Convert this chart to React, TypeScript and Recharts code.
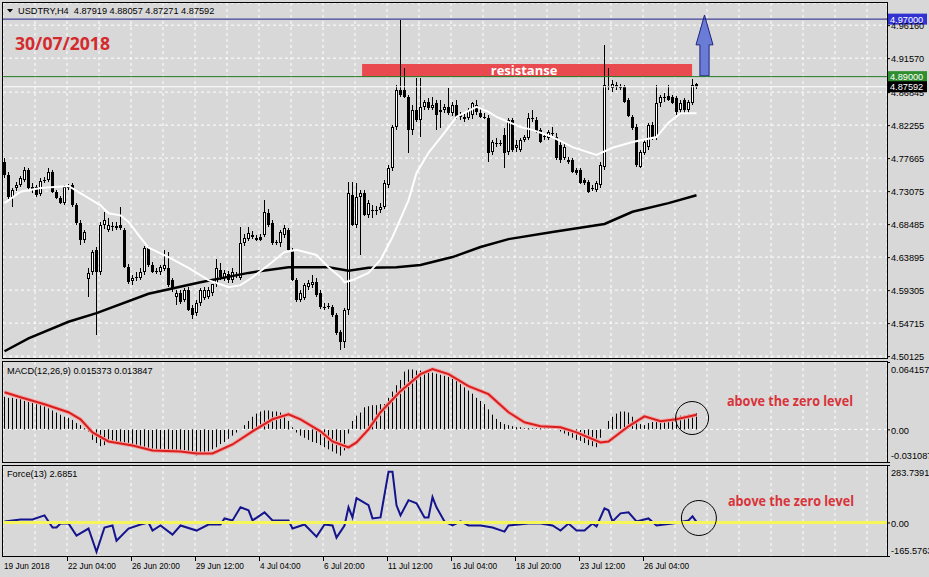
import React from "react";
import {
  ComposedChart,
  Bar,
  Line,
  XAxis,
  YAxis,
  CartesianGrid,
  ReferenceLine,
  ReferenceArea,
  ReferenceDot,
} from "recharts";

const FONT = "'Liberation Sans', Arial, sans-serif";
const BOLD_FONT = "'Open Sans', 'Liberation Sans', sans-serif";
const BG = "#d8d8d8";
const X_DOMAIN = [-0.375, 220.625];

// USDTRY H4 bars, 19 Jun 2018 12:00 .. 30 Jul 2018 08:00 : [open, high, low, close]
const candles = [
  [4.771, 4.777, 4.749, 4.753], [4.753, 4.757, 4.720, 4.723], [4.723, 4.735, 4.709, 4.732], [4.735, 4.743, 4.730, 4.739],
  [4.739, 4.752, 4.737, 4.749], [4.746, 4.764, 4.743, 4.760], [4.760, 4.763, 4.732, 4.735], [4.736, 4.742, 4.728, 4.734],
  [4.736, 4.739, 4.723, 4.725], [4.727, 4.749, 4.724, 4.745], [4.745, 4.750, 4.742, 4.746], [4.746, 4.763, 4.743, 4.757],
  [4.757, 4.760, 4.728, 4.730], [4.730, 4.732, 4.720, 4.721], [4.721, 4.724, 4.713, 4.714], [4.714, 4.739, 4.711, 4.736],
  [4.736, 4.741, 4.732, 4.735], [4.739, 4.742, 4.709, 4.711], [4.711, 4.714, 4.684, 4.686], [4.686, 4.691, 4.656, 4.663],
  [4.663, 4.677, 4.659, 4.674], [4.609, 4.624, 4.583, 4.617], [4.618, 4.649, 4.614, 4.646], [4.649, 4.653, 4.531, 4.618],
  [4.618, 4.688, 4.614, 4.684], [4.684, 4.702, 4.679, 4.691], [4.677, 4.693, 4.674, 4.684], [4.681, 4.688, 4.675, 4.682],
  [4.682, 4.688, 4.677, 4.679], [4.684, 4.709, 4.677, 4.679], [4.677, 4.679, 4.624, 4.625], [4.625, 4.629, 4.601, 4.604],
  [4.606, 4.614, 4.600, 4.610], [4.610, 4.618, 4.606, 4.611], [4.610, 4.624, 4.607, 4.618], [4.618, 4.654, 4.614, 4.652],
  [4.652, 4.654, 4.625, 4.628], [4.628, 4.632, 4.617, 4.618], [4.620, 4.624, 4.615, 4.619], [4.618, 4.628, 4.614, 4.625],
  [4.622, 4.649, 4.620, 4.628], [4.624, 4.646, 4.597, 4.600], [4.607, 4.610, 4.590, 4.596], [4.583, 4.593, 4.572, 4.589],
  [4.589, 4.593, 4.574, 4.577], [4.579, 4.596, 4.577, 4.593], [4.593, 4.597, 4.563, 4.565], [4.568, 4.572, 4.553, 4.558],
  [4.561, 4.579, 4.557, 4.575], [4.575, 4.596, 4.571, 4.593], [4.582, 4.597, 4.579, 4.593], [4.583, 4.597, 4.581, 4.593],
  [4.589, 4.602, 4.585, 4.601], [4.601, 4.636, 4.597, 4.624], [4.621, 4.631, 4.607, 4.611], [4.610, 4.621, 4.606, 4.617],
  [4.616, 4.620, 4.604, 4.607], [4.607, 4.624, 4.603, 4.618], [4.614, 4.618, 4.609, 4.613], [4.610, 4.681, 4.607, 4.659],
  [4.659, 4.671, 4.654, 4.666], [4.664, 4.681, 4.661, 4.672], [4.670, 4.675, 4.664, 4.667], [4.666, 4.670, 4.661, 4.663],
  [4.667, 4.671, 4.661, 4.663], [4.670, 4.718, 4.666, 4.702], [4.700, 4.706, 4.681, 4.684], [4.686, 4.691, 4.656, 4.659],
  [4.660, 4.663, 4.656, 4.659], [4.659, 4.677, 4.654, 4.674], [4.670, 4.684, 4.666, 4.679], [4.677, 4.679, 4.647, 4.649],
  [4.649, 4.652, 4.606, 4.607], [4.607, 4.610, 4.577, 4.579], [4.579, 4.593, 4.577, 4.589], [4.582, 4.603, 4.579, 4.600],
  [4.597, 4.607, 4.593, 4.603], [4.600, 4.614, 4.596, 4.604], [4.604, 4.610, 4.583, 4.586], [4.589, 4.593, 4.567, 4.570],
  [4.570, 4.575, 4.565, 4.569], [4.571, 4.575, 4.567, 4.570], [4.570, 4.572, 4.556, 4.558], [4.558, 4.561, 4.531, 4.533],
  [4.535, 4.538, 4.510, 4.521], [4.521, 4.568, 4.513, 4.565], [4.565, 4.743, 4.558, 4.728], [4.725, 4.743, 4.682, 4.684],
  [4.684, 4.742, 4.679, 4.723], [4.723, 4.732, 4.642, 4.728], [4.728, 4.732, 4.696, 4.698], [4.698, 4.718, 4.693, 4.714],
  [4.705, 4.711, 4.693, 4.704], [4.704, 4.710, 4.697, 4.705], [4.705, 4.714, 4.700, 4.709], [4.709, 4.746, 4.705, 4.742],
  [4.739, 4.767, 4.735, 4.763], [4.763, 4.823, 4.759, 4.820], [4.820, 4.878, 4.816, 4.871], [4.871, 4.969, 4.862, 4.865],
  [4.871, 4.902, 4.860, 4.862], [4.862, 4.865, 4.784, 4.816], [4.816, 4.851, 4.809, 4.844], [4.844, 4.888, 4.827, 4.830],
  [4.830, 4.888, 4.806, 4.848], [4.848, 4.858, 4.844, 4.855], [4.855, 4.860, 4.844, 4.846], [4.846, 4.862, 4.844, 4.851],
  [4.853, 4.858, 4.816, 4.837], [4.841, 4.858, 4.819, 4.844], [4.844, 4.852, 4.839, 4.848], [4.848, 4.874, 4.837, 4.839],
  [4.839, 4.855, 4.835, 4.851], [4.851, 4.858, 4.832, 4.834], [4.834, 4.841, 4.830, 4.837], [4.834, 4.838, 4.827, 4.831],
  [4.832, 4.846, 4.830, 4.844], [4.837, 4.855, 4.832, 4.853], [4.851, 4.858, 4.837, 4.841], [4.839, 4.846, 4.832, 4.834],
  [4.834, 4.839, 4.830, 4.833], [4.832, 4.837, 4.771, 4.784], [4.785, 4.802, 4.781, 4.799], [4.798, 4.805, 4.793, 4.797],
  [4.797, 4.802, 4.793, 4.796], [4.809, 4.818, 4.763, 4.784], [4.785, 4.832, 4.781, 4.830], [4.830, 4.832, 4.785, 4.788],
  [4.791, 4.802, 4.785, 4.795], [4.788, 4.805, 4.785, 4.802], [4.802, 4.809, 4.799, 4.806], [4.805, 4.839, 4.802, 4.832],
  [4.832, 4.844, 4.827, 4.831], [4.830, 4.834, 4.812, 4.813], [4.816, 4.819, 4.798, 4.799], [4.807, 4.812, 4.802, 4.806],
  [4.805, 4.816, 4.802, 4.813], [4.812, 4.820, 4.807, 4.810], [4.806, 4.812, 4.774, 4.777], [4.795, 4.802, 4.770, 4.774],
  [4.777, 4.798, 4.774, 4.792], [4.774, 4.778, 4.768, 4.771], [4.774, 4.777, 4.756, 4.757], [4.760, 4.763, 4.753, 4.756],
  [4.760, 4.763, 4.741, 4.742], [4.746, 4.749, 4.739, 4.742], [4.743, 4.746, 4.728, 4.730], [4.735, 4.739, 4.731, 4.734],
  [4.732, 4.745, 4.730, 4.742], [4.739, 4.771, 4.735, 4.767], [4.764, 4.934, 4.760, 4.878], [4.877, 4.902, 4.871, 4.876],
  [4.874, 4.885, 4.869, 4.880], [4.878, 4.882, 4.871, 4.876], [4.876, 4.880, 4.871, 4.874], [4.876, 4.878, 4.853, 4.855],
  [4.858, 4.860, 4.834, 4.835], [4.834, 4.837, 4.816, 4.819], [4.820, 4.824, 4.764, 4.767], [4.764, 4.788, 4.763, 4.785],
  [4.784, 4.802, 4.781, 4.799], [4.792, 4.826, 4.788, 4.823], [4.823, 4.827, 4.802, 4.806], [4.806, 4.878, 4.802, 4.853],
  [4.853, 4.865, 4.849, 4.862], [4.860, 4.867, 4.855, 4.862], [4.863, 4.878, 4.856, 4.858], [4.862, 4.865, 4.852, 4.853],
  [4.860, 4.863, 4.837, 4.841], [4.844, 4.858, 4.839, 4.853], [4.858, 4.860, 4.839, 4.844], [4.844, 4.858, 4.838, 4.855],
  [4.853, 4.887, 4.851, 4.878], [4.87919, 4.88057, 4.87271, 4.87592],
];

// moving averages: [bar, value]
const maFast = [
  [0, 4.714], [4, 4.730], [9, 4.735], [16, 4.738], [24, 4.711], [26, 4.700], [29, 4.697], [31, 4.688],
  [34, 4.666], [36, 4.652], [41, 4.639], [46, 4.624], [51, 4.607], [56, 4.597], [59, 4.600], [62, 4.611],
  [66, 4.628], [70, 4.646], [73, 4.649], [78, 4.642], [81, 4.625], [84, 4.611], [85, 4.604], [87, 4.607],
  [91, 4.617], [94, 4.635], [97, 4.667], [101, 4.718], [103, 4.756], [106, 4.784], [110, 4.812], [113, 4.834],
  [118, 4.848], [121, 4.841], [123, 4.834], [129, 4.820], [132, 4.816], [137, 4.806], [142, 4.792], [148, 4.781],
  [152, 4.791], [157, 4.799], [163, 4.806], [166, 4.826], [169, 4.839], [173, 4.839],
];
const maSlow = [
  [0, 4.508], [6, 4.526], [16, 4.549], [23, 4.561], [36, 4.588], [49, 4.604], [61, 4.617], [71, 4.625],
  [81, 4.625], [86, 4.620], [91, 4.624], [98, 4.625], [104, 4.628], [112, 4.639], [119, 4.653], [126, 4.664],
  [137, 4.674], [150, 4.685], [157, 4.702], [166, 4.714], [173, 4.725],
];

// MACD(12,26,9) main values, one per bar
const macdMain = [
  0.031, 0.030, 0.030, 0.029, 0.029, 0.027, 0.026, 0.025, 0.024, 0.023,
  0.022, 0.020, 0.018, 0.016, 0.014, 0.012, 0.011, 0.009, 0.006, 0.004, 0.001, -0.002,
  -0.010, -0.013, -0.016, -0.015, -0.013, -0.012, -0.013, -0.013, -0.014, -0.016, -0.017, -0.016,
  -0.018, -0.018, -0.019, -0.019, -0.020, -0.020, -0.019, -0.020, -0.021, -0.021, -0.022, -0.022,
  -0.023, -0.024, -0.025, -0.024, -0.023, -0.021, -0.019, -0.017, -0.014, -0.012,
  -0.009, -0.006, -0.003, 0.000, 0.004, 0.008, 0.012, 0.015,
  0.017, 0.018, 0.018, 0.017, 0.017, 0.016, 0.012, 0.008, 0.002,
  -0.003, -0.006, -0.008, -0.010, -0.012, -0.013, -0.015, -0.017, -0.019, -0.021, -0.023, -0.025, -0.020,
  -0.004, 0.008, 0.013, 0.016, 0.021, 0.022, 0.023, 0.023, 0.024, 0.024,
  0.030, 0.036, 0.042, 0.047, 0.055, 0.057, 0.057, 0.056, 0.056, 0.055,
  0.055, 0.054, 0.053, 0.052, 0.051, 0.050, 0.048, 0.046, 0.043, 0.040, 0.037, 0.034,
  0.030, 0.027, 0.024, 0.019, 0.014, 0.010, 0.007, 0.005, 0.004, 0.003, 0.002, 0.002, 0.001,
  0.001, 0.001, 0.001, 0.001, 0.001, 0.001, 0.000, 0.000,
  -0.002, -0.004, -0.006, -0.008, -0.010, -0.011, -0.013, -0.015, -0.016, -0.017, -0.008, 0.000,
  0.008, 0.012, 0.015, 0.017, 0.017, 0.016, 0.012, 0.008, 0.005, 0.004,
  0.006, 0.007, 0.007, 0.008, 0.008, 0.009, 0.011, 0.012, 0.013, 0.013, 0.014, 0.014, 0.015373,
];
const macdSignal = [
  [0, 0.0354], [4, 0.0306], [10, 0.0239], [16, 0.0163], [19, 0.0096], [22, -0.0029], [26, -0.0115], [32, -0.0153],
  [37, -0.0201], [44, -0.0211], [48, -0.023], [52, -0.023], [57, -0.0144], [62, -0.0019], [67, 0.0096], [71, 0.0144],
  [74, 0.0096], [79, -0.0019], [82, -0.0115], [86, -0.0172], [88, -0.0124], [91, 0.0], [94, 0.0163], [99, 0.0364],
  [104, 0.0526], [107, 0.0574], [111, 0.0526], [116, 0.0411], [121, 0.0335], [126, 0.0163], [130, 0.0067], [134, 0.0029],
  [139, 0.0019], [143, -0.0029], [149, -0.0124], [151, -0.0115], [156, 0.0029], [160, 0.0124], [164, 0.0077], [168, 0.0096],
  [173, 0.013847],
];

// Force(13): [bar, value]
const force = [
  [0, 5], [4, 15], [7, 15], [10, 35], [12, -25], [13, -25], [14, -5], [16, -5], [18, -65], [21, -30], [23, -145],
  [25, -25], [27, -15], [28, -90], [31, -30], [34, -10], [36, 0], [37, -40], [39, -15], [42, -60], [44, -15], [48, -40],
  [51, -10], [54, -10], [55, 20], [57, 10], [59, 75], [61, 60], [62, 10], [65, 50], [67, 10], [71, 10], [72, -30],
  [75, -10], [78, -70], [80, -10], [82, -15], [83, -75], [85, -15], [86, 75], [87, 25], [88, 120], [91, 85], [92, 20],
  [94, 25], [96, 250], [97, 250], [98, 85], [99, 35], [101, 110], [103, 95], [105, 25], [106, 25], [107, 125], [108, 75],
  [110, 5], [112, -15], [114, 5], [116, -15], [119, -15], [122, -25], [125, -45], [126, -15], [131, -5], [134, -5],
  [137, -15], [139, -40], [141, -5], [143, -40], [145, -40], [147, -5], [148, -20], [150, 70], [151, 60], [152, 5],
  [154, 45], [156, 50], [158, 5], [161, 20], [163, -15], [167, -5], [171, 10], [172, 30], [173, 2.6851],
];

const priceTicks = [4.50125, 4.54715, 4.59305, 4.63895, 4.68485, 4.73075, 4.77665, 4.82255, 4.86845, 4.9157, 4.9616];
const macdTicks = [0.064157, 0, -0.031087];
const macdTickLabels = ["0.064157", "0.00", "-0.031087"];
const forceTicks = [283.7391, 0, -165.5763];
const forceTickLabels = ["283.7391", "0.00", "-165.5763"];
const dateLabels = [
  "19 Jun 2018", "22 Jun 04:00", "26 Jun 20:00", "29 Jun 12:00", "4 Jul 04:00", "6 Jul 20:00",
  "11 Jul 12:00", "16 Jul 04:00", "18 Jul 20:00", "23 Jul 12:00", "26 Jul 04:00",
];

const gridTicks = Array.from({ length: 28 }, (_, k) => 8 * k - 0.375);

const mainData = candles.map((c, i) => ({ i, o: c[0], h: c[1], l: c[2], c: c[3], hl: [c[2], c[1]] }));
const fastData = maFast.map(([i, v]) => ({ i, v }));
const slowData = maSlow.map(([i, v]) => ({ i, v }));
const macdData = macdMain.map((m, i) => ({ i, m }));
const signalData = macdSignal.map(([i, v]) => ({ i, v }));
const forceData = force.map(([i, v]) => ({ i, v }));
const zeroLine = [{ i: X_DOMAIN[0], v: 0 }, { i: X_DOMAIN[1], v: 0 }];

function Candle(props: any) {
  const { x, y, width, height, payload } = props;
  if (!payload || height == null || isNaN(y)) return null;
  const top = Math.min(y, y + height);
  const h = Math.abs(height);
  const k = h / (payload.h - payload.l);
  const yOf = (p: number) => top + (payload.h - p) * k;
  const cx = Math.round(x + width / 2 - 0.5) + 0.5;
  const bull = payload.c >= payload.o;
  const bt = Math.round(yOf(Math.max(payload.o, payload.c)));
  const bh = Math.max(1, Math.round(yOf(Math.min(payload.o, payload.c))) - bt);
  return (
    <g>
      <rect x={cx - 0.5} y={Math.round(top)} width={1} height={Math.max(1, Math.round(h))} fill="#000" />
      <rect x={cx - 1.5} y={bt} width={3} height={bh} fill="#000" />
      {bull && bh > 2 && <rect x={cx - 0.5} y={bt + 1} width={1} height={bh - 2} fill="#fff" />}
    </g>
  );
}

function HistBar(props: any) {
  const { x, y, width, height } = props;
  if (height == null || isNaN(y)) return null;
  const top = Math.min(y, y + height);
  const h = Math.abs(height);
  if (h < 0.3) return null;
  const cx = Math.round(x + width / 2 - 0.5);
  return <rect x={cx} y={top} width={1} height={Math.max(1, h)} fill="#000" />;
}

function PriceTick(props: any) {
  const { x, y, payload } = props;
  return (
    <g>
      <line x1={x} x2={x + 3} y1={y + 0.5} y2={y + 0.5} stroke="#000" />
      <text x={x + 4} y={y + 3.5} fontSize={9.2} fontFamily={FONT} fill="#000">
        {payload.value.toFixed(5)}
      </text>
    </g>
  );
}

function makeSideTick(ticks: number[], labels: string[], topDy: number, botDy: number) {
  return function SideTick(props: any) {
    const { x, y, payload } = props;
    const idx = ticks.indexOf(payload.value);
    const dy = idx === 0 ? topDy : idx === ticks.length - 1 ? botDy : 1;
    return (
      <g>
        <line x1={x} x2={x + 3} y1={y + 0.5} y2={y + 0.5} stroke="#000" />
        <text x={x + 4} y={y + dy + 3.5} fontSize={9.2} fontFamily={FONT} fill="#000">
          {labels[idx]}
        </text>
      </g>
    );
  };
}
const MacdTick = makeSideTick(macdTicks, macdTickLabels, 7, -7);
const ForceTick = makeSideTick(forceTicks, forceTickLabels, 7, -6);

function DateTick(props: any) {
  const { x, y, payload } = props;
  const k = Math.round((payload.value + 0.375) / 8);
  if (k % 2 !== 0 || !dateLabels[k / 2]) return null;
  return (
    <g>
      {k > 0 && <line x1={x + 0.5} x2={x + 0.5} y1={y + 1} y2={y + 5} stroke="#000" />}
      <text transform={`translate(${x + 1},${y + 13}) scale(0.9,1)`} fontSize={9.2} fontFamily={FONT} fill="#000">
        {dateLabels[k / 2]}
      </text>
    </g>
  );
}

function PriceTag(props: any) {
  const { viewBox, text, bg } = props;
  if (!viewBox) return null;
  const x = viewBox.x + viewBox.width;
  const y = viewBox.y;
  return (
    <g>
      <rect x={x} y={y - 5.5} width={40} height={11} fill={bg} />
      <text x={x + 3} y={y + 3.5} fontSize={9.2} fontFamily={FONT} fill="#fff">
        {text}
      </text>
    </g>
  );
}

function BandLabel(props: any) {
  const { viewBox } = props;
  if (!viewBox) return null;
  return (
    <text
      x={viewBox.x + viewBox.width / 2 - 3}
      y={viewBox.y + viewBox.height / 2 + 4.5}
      textAnchor="middle"
      fill="#fff"
      fontSize={13}
      fontWeight={700}
      fontFamily={BOLD_FONT}
    >
      resistanse
    </text>
  );
}

function Arrow(props: any) {
  const { x, y, width, height } = props;
  const cx = x + width / 2;
  const hy = y + height * 0.49;
  const s = width * 0.27;
  const pts = [
    [cx, y], [x + width, hy], [cx + s, hy], [cx + s, y + height],
    [cx - s, y + height], [cx - s, hy], [x, hy],
  ].map((p) => p.join(",")).join(" ");
  return <polygon points={pts} fill="#6b7cd6" stroke="#1b2580" strokeWidth={1} />;
}

export default function App() {
  return (
    <div style={{ position: "absolute", left: 0, top: 0, width: 929, height: 577, background: BG, overflow: "hidden" }}>
      {/* price pane */}
      <div style={{ position: "absolute", left: 0, top: 0 }}>
        <ComposedChart width={929} height={364} data={mainData} margin={{ top: 3, right: 0, bottom: 6, left: 3 }}>
          <CartesianGrid stroke="#fff" strokeDasharray="3 3" />
          <XAxis type="number" dataKey="i" domain={X_DOMAIN} ticks={gridTicks} interval={0} allowDataOverflow hide />
          <YAxis
            orientation="right"
            width={42}
            domain={[4.49862, 4.99243]}
            ticks={priceTicks}
            interval={0}
            allowDataOverflow
            axisLine={false}
            tickLine={false}
            tickSize={0}
            tickMargin={0}
            tick={(p: any) => <PriceTick {...p} />}
          />
          <ReferenceArea x1={89.4} x2={171.9} y1={4.89} y2={4.9076} fill="#e84a50" fillOpacity={1} stroke="none" label={<BandLabel />} />
          <ReferenceLine y={4.97} stroke="#1e1e8a" label={<PriceTag text="4.97000" bg="#3232d2" />} />
          <ReferenceLine y={4.89} stroke="#237a23" label={<PriceTag text="4.89000" bg="#2f8f2f" />} />
          <ReferenceLine y={4.87592} stroke="#ffffff" label={<PriceTag text="4.87592" bg="#000000" />} />
          <Bar dataKey="hl" barSize={3} isAnimationActive={false} shape={(p: any) => <Candle {...p} />} />
          <Line data={slowData} dataKey="v" stroke="#000" strokeWidth={2.5} dot={false} activeDot={false} isAnimationActive={false} />
          <Line data={fastData} dataKey="v" stroke="#fff" strokeWidth={2} dot={false} activeDot={false} isAnimationActive={false} />
          <ReferenceArea x1={172.875} x2={177.125} y1={4.891} y2={4.9757} shape={(p: any) => <Arrow {...p} />} />
        </ComposedChart>
      </div>

      {/* MACD pane */}
      <div style={{ position: "absolute", left: 0, top: 361 }}>
        <ComposedChart width={929} height={102} data={macdData} margin={{ top: 1, right: 0, bottom: 1, left: 3 }}>
          <CartesianGrid stroke="#fff" strokeDasharray="3 3" horizontal={false} />
          <XAxis type="number" dataKey="i" domain={X_DOMAIN} ticks={gridTicks} interval={0} allowDataOverflow hide />
          <YAxis
            orientation="right"
            width={42}
            domain={[-0.031087, 0.064157]}
            ticks={macdTicks}
            interval={0}
            allowDataOverflow
            axisLine={false}
            tickLine={false}
            tickSize={0}
            tickMargin={0}
            tick={(p: any) => <MacdTick {...p} />}
          />
          <ReferenceLine y={0} stroke="#fff" strokeDasharray="3 3" />
          <Bar dataKey="m" barSize={1} fill="#000" isAnimationActive={false} shape={(p: any) => <HistBar {...p} />} />
          <Line data={signalData} dataKey="v" stroke="#f3a4a4" strokeWidth={4} dot={false} activeDot={false} isAnimationActive={false} />
          <Line data={signalData} dataKey="v" stroke="#d91e1e" strokeWidth={2} dot={false} activeDot={false} isAnimationActive={false} />
          <ReferenceDot x={171.9} y={0.0108} r={16.5} fill="none" stroke="#000" />
        </ComposedChart>
      </div>

      {/* Force pane */}
      <div style={{ position: "absolute", left: 0, top: 464 }}>
        <ComposedChart width={929} height={113} data={forceData} margin={{ top: 1, right: 0, bottom: 0, left: 3 }}>
          <CartesianGrid stroke="#fff" strokeDasharray="3 3" horizontal={false} />
          <XAxis
            type="number"
            dataKey="i"
            domain={X_DOMAIN}
            ticks={gridTicks}
            interval={0}
            allowDataOverflow
            height={21}
            axisLine={false}
            tickLine={false}
            tickSize={0}
            tickMargin={0}
            tick={(p: any) => <DateTick {...p} />}
          />
          <YAxis
            orientation="right"
            width={42}
            domain={[-165.5763, 283.7391]}
            ticks={forceTicks}
            interval={0}
            allowDataOverflow
            axisLine={false}
            tickLine={false}
            tickSize={0}
            tickMargin={0}
            tick={(p: any) => <ForceTick {...p} />}
          />
          <Line dataKey="v" stroke="#14148c" strokeWidth={2} dot={false} activeDot={false} isAnimationActive={false} />
          <Line data={zeroLine} dataKey="v" stroke="#f6f65a" strokeWidth={3} dot={false} activeDot={false} isAnimationActive={false} />
          <ReferenceDot x={173.6} y={22} r={17.5} fill="none" stroke="#000" />
        </ComposedChart>
      </div>

      {/* frames and captions */}
      <svg width={929} height={577} style={{ position: "absolute", left: 0, top: 0, pointerEvents: "none" }}>
        <rect x={2.5} y={2.5} width={885} height={356} fill="none" stroke="#000" />
        <rect x={2.5} y={361.5} width={885} height={101} fill="none" stroke="#000" />
        <rect x={2.5} y={465.5} width={885} height={91} fill="none" stroke="#000" />
        <polygon points="7,9 13,9 10,12.5" fill="#000" />
        <text x={18} y={14} fontSize={9.2} fontFamily={FONT} fill="#000" xmlSpace="preserve">
          USDTRY,H4  4.87919 4.88057 4.87271 4.87592
        </text>
        <text x={15} y={50} fontSize={18} fontWeight={700} fontFamily={BOLD_FONT} fill="#d42a2e" textLength={95} lengthAdjust="spacingAndGlyphs">
          30/07/2018
        </text>
        <text x={7} y={373.5} fontSize={9.2} fontFamily={FONT} fill="#000">
          MACD(12,26,9) 0.015373 0.013847
        </text>
        <text x={7} y={477} fontSize={9.2} fontFamily={FONT} fill="#000">
          Force(13) 2.6851
        </text>
        <text x={727} y={406} fontSize={14} fontWeight={700} fontFamily={BOLD_FONT} fill="#d8333a" textLength={126} lengthAdjust="spacingAndGlyphs">
          above the zero level
        </text>
        <text x={728} y={506} fontSize={14} fontWeight={700} fontFamily={BOLD_FONT} fill="#d8333a" textLength={126} lengthAdjust="spacingAndGlyphs">
          above the zero level
        </text>
      </svg>
    </div>
  );
}
